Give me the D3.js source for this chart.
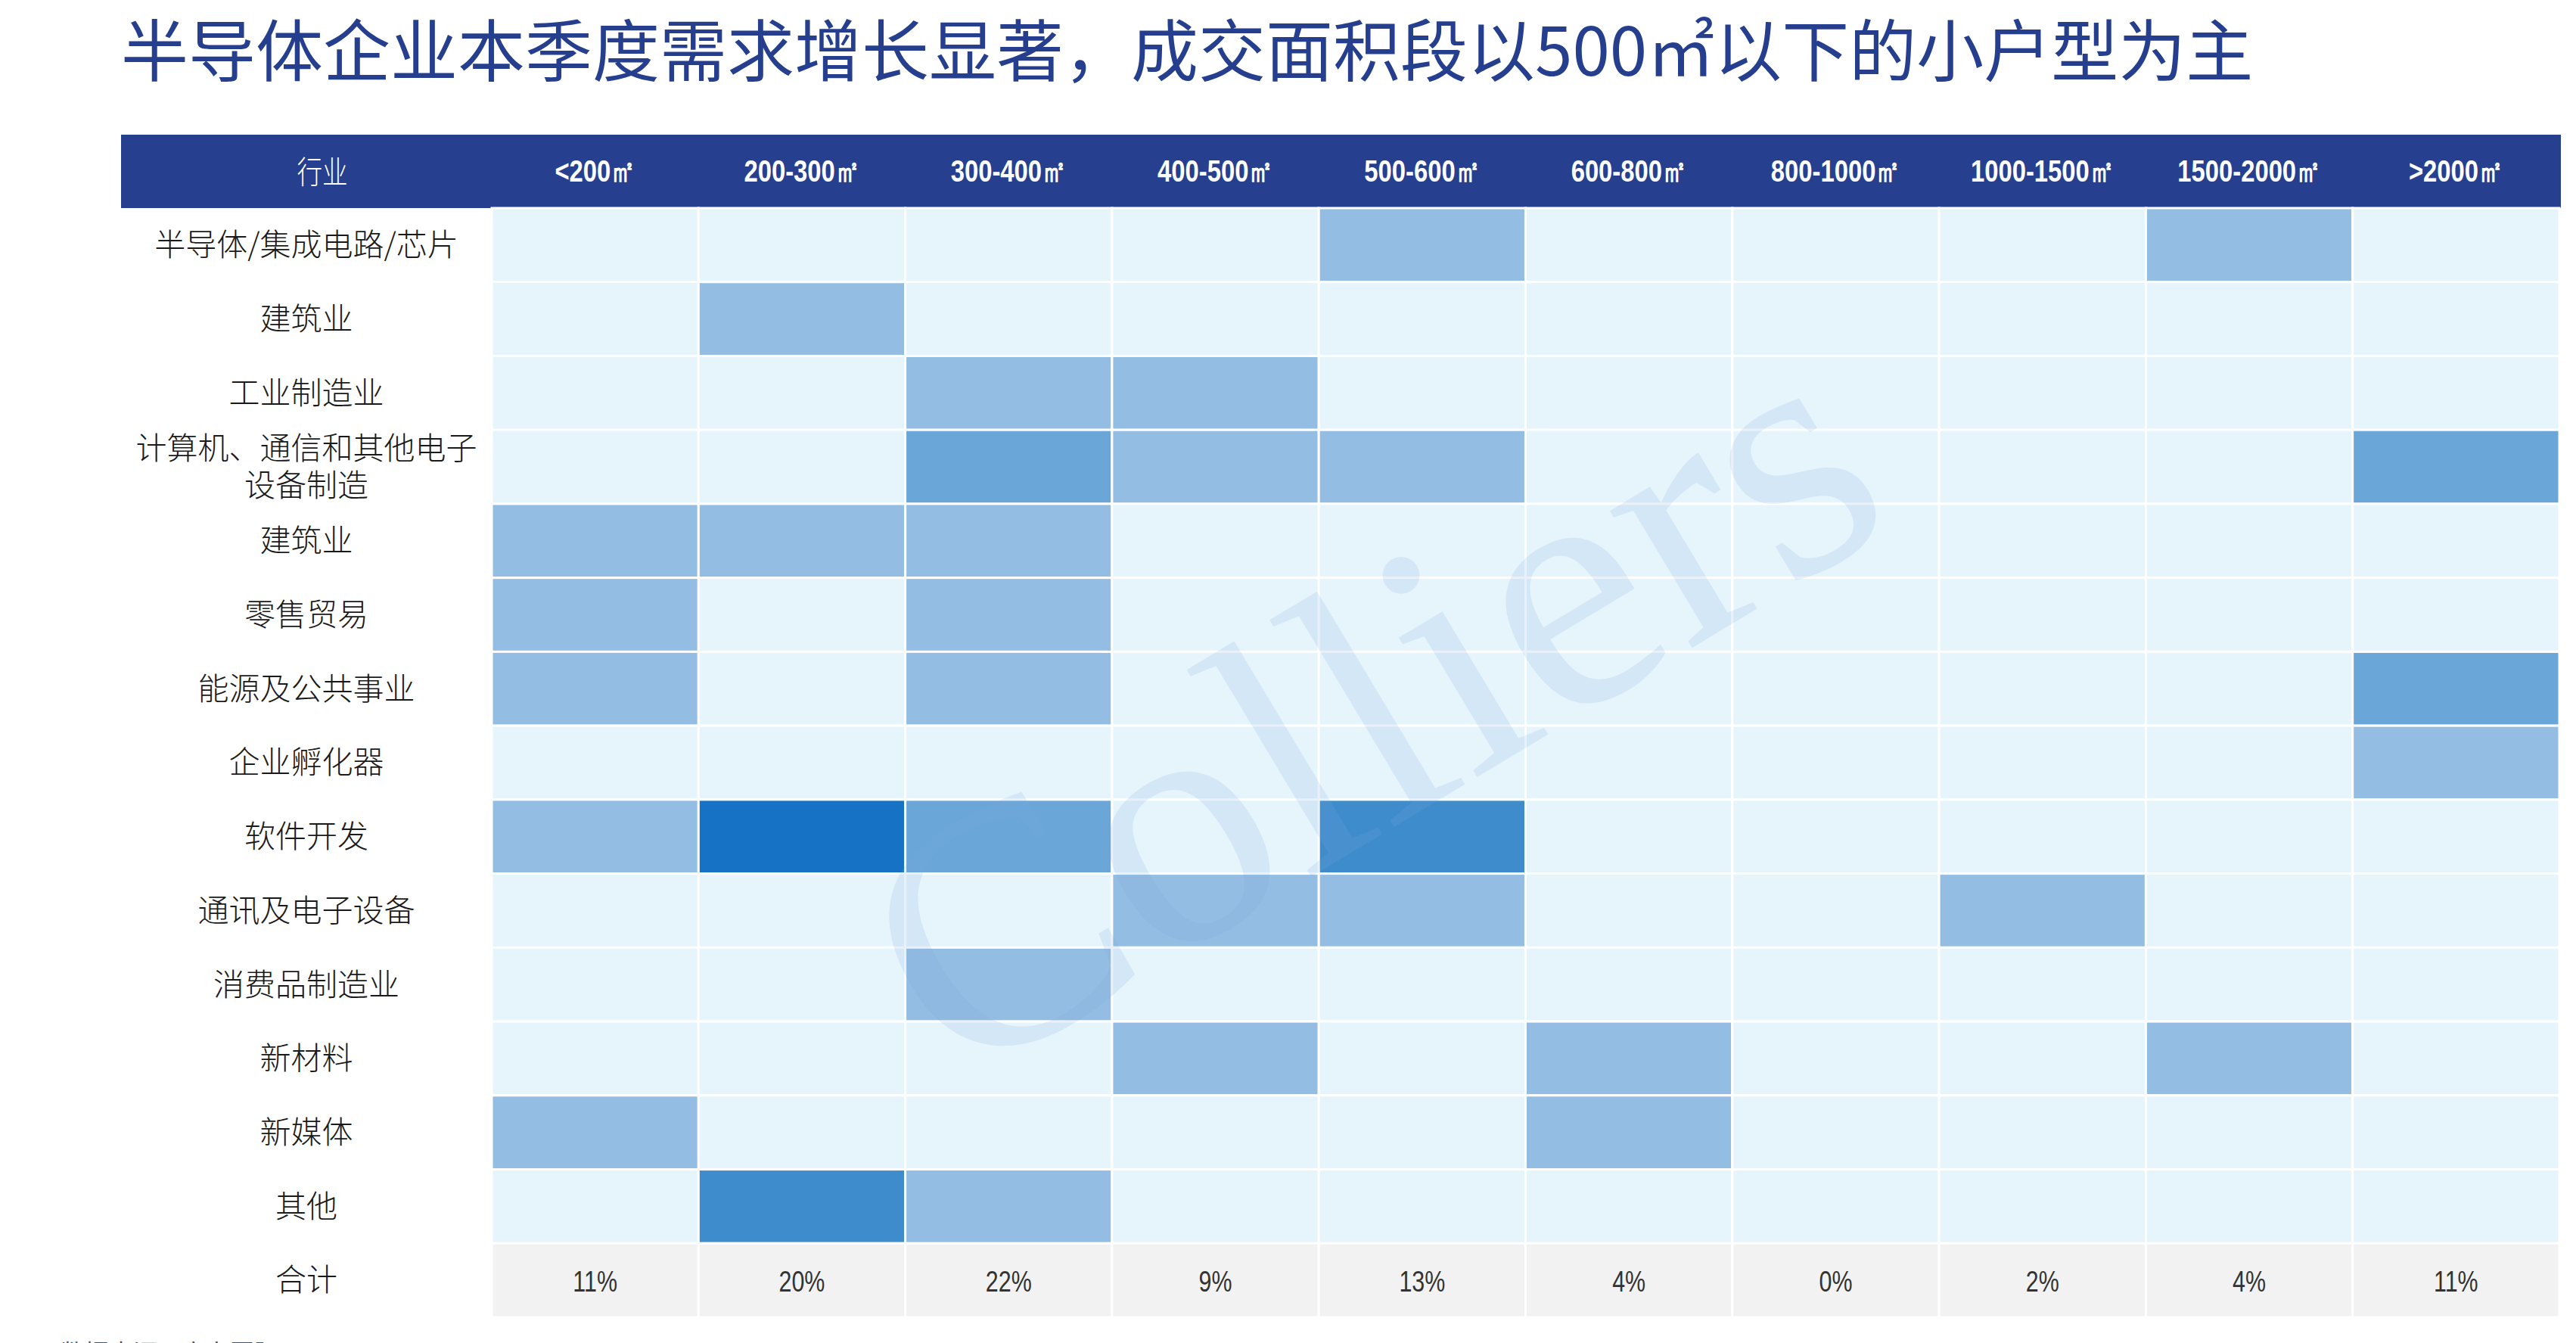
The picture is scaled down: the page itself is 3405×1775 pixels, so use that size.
<!DOCTYPE html>
<html>
<head>
<meta charset="utf-8">
<script src="https://cdn.jsdelivr.net/npm/d3@7"></script>
<style>
  body { margin: 0; background: #fff; }
  .rowLabel { font-family: "Noto Sans CJK SC", sans-serif; font-weight: 300; }
  .narrow { font-family: "Liberation Sans Narrow", "Arial Narrow", "Liberation Sans", sans-serif; }
</style>
</head>
<body>
<div id="heatmap"></div>
<script>
var svgWidth = 3405;
var svgHeight = 1775;

// Data
// ==============================
var titleText = "半导体企业本季度需求增长显著，成交面积段以500㎡以下的小户型为主";
var headerLabel = "行业";
var areaBands = ["<200㎡", "200-300㎡", "300-400㎡", "400-500㎡", "500-600㎡",
  "600-800㎡", "800-1000㎡", "1000-1500㎡", "1500-2000㎡", ">2000㎡"];
var industries = ["半导体/集成电路/芯片", "建筑业", "工业制造业", "计算机、通信和其他电子\n设备制造",
  "建筑业", "零售贸易", "能源及公共事业", "企业孵化器", "软件开发", "通讯及电子设备",
  "消费品制造业", "新材料", "新媒体", "其他"];
// number of deals per industry (rows) and area band (columns)
var deals = [
  [0, 0, 0, 0, 1, 0, 0, 0, 1, 0],
  [0, 1, 0, 0, 0, 0, 0, 0, 0, 0],
  [0, 0, 1, 1, 0, 0, 0, 0, 0, 0],
  [0, 0, 2, 1, 1, 0, 0, 0, 0, 2],
  [1, 1, 1, 0, 0, 0, 0, 0, 0, 0],
  [1, 0, 1, 0, 0, 0, 0, 0, 0, 0],
  [1, 0, 1, 0, 0, 0, 0, 0, 0, 2],
  [0, 0, 0, 0, 0, 0, 0, 0, 0, 1],
  [1, 4, 2, 0, 3, 0, 0, 0, 0, 0],
  [0, 0, 0, 1, 1, 0, 0, 1, 0, 0],
  [0, 0, 1, 0, 0, 0, 0, 0, 0, 0],
  [0, 0, 0, 1, 0, 1, 0, 0, 1, 0],
  [1, 0, 0, 0, 0, 1, 0, 0, 0, 0],
  [0, 3, 1, 0, 0, 0, 0, 0, 0, 0]
];
var totalLabel = "合计";
var totalShare = ["11%", "20%", "22%", "9%", "13%", "4%", "0%", "2%", "4%", "11%"];
var sourceText = "数据来源：高力国际";

var svg = d3.select("#heatmap")
  .append("svg")
  .attr("width", svgWidth)
  .attr("height", svgHeight)
  .style("display", "block");

svg.append("rect")
  .attr("width", svgWidth)
  .attr("height", svgHeight)
  .attr("fill", "#fff");

// Scales
// ==============================
var rowKeys = industries.map((d, i) => i).concat(["total"]);

var xScale = d3.scaleBand()
  .domain(areaBands)
  .range([650, 3383]);

var yScale = d3.scaleBand()
  .domain(rowKeys)
  .range([275, 1741]);

var colorScale = d3.scaleOrdinal()
  .domain([0, 1, 2, 3, 4])
  .range(["#e6f4fc", "#93bde3", "#6aa6d8", "#3f8ccd", "#1572c4"]);

// narrow (condensed) text look: squeeze horizontally around the anchor
var squeeze = 0.8;
function narrowAt(cx, cy) {
  return `translate(${cx}, ${cy}) scale(${squeeze}, 1)`;
}

// Title
// ==============================
svg.append("text")
  .attr("x", 160)
  .attr("y", 100)
  .attr("font-family", "'Noto Sans CJK SC', sans-serif")
  .attr("font-weight", 400)
  .attr("font-size", "89px")
  .attr("fill", "#253f8e")
  .text(titleText);

// Header band
// ==============================
svg.append("rect")
  .attr("x", 160)
  .attr("y", 178)
  .attr("width", 3385 - 160)
  .attr("height", 275 - 178)
  .attr("fill", "#263f8e");

svg.append("text")
  .attr("class", "rowLabel")
  .attr("transform", narrowAt(426, 228))
  .attr("dy", "0.35em")
  .attr("text-anchor", "middle")
  .attr("font-size", "42px")
  .attr("font-weight", 400)
  .attr("fill", "#fff")
  .text(headerLabel);

svg.append("g")
  .selectAll("text")
  .data(areaBands)
  .enter()
  .append("text")
  .attr("class", "narrow")
  .attr("transform", d => narrowAt(xScale(d) + xScale.bandwidth() / 2, 226))
  .attr("dy", "0.35em")
  .attr("text-anchor", "middle")
  .attr("font-size", "41px")
  .attr("font-weight", "bold")
  .attr("fill", "#fff")
  .text(d => d);

// Cells
// ==============================
var cells = [];
deals.forEach(function(row, i) {
  row.forEach(function(v, j) {
    cells.push({row: i, band: areaBands[j], value: v});
  });
});

svg.append("g")
  .selectAll("rect")
  .data(cells)
  .enter()
  .append("rect")
  .attr("x", d => xScale(d.band))
  .attr("y", d => yScale(d.row))
  .attr("width", xScale.bandwidth())
  .attr("height", yScale.bandwidth())
  .attr("fill", d => colorScale(d.value))
  .attr("stroke", "#fff")
  .attr("stroke-width", 3);

// Total row
svg.append("g")
  .selectAll("rect")
  .data(areaBands)
  .enter()
  .append("rect")
  .attr("x", d => xScale(d))
  .attr("y", yScale("total"))
  .attr("width", xScale.bandwidth())
  .attr("height", yScale.bandwidth())
  .attr("fill", "#f2f2f2")
  .attr("stroke", "#fff")
  .attr("stroke-width", 3);

svg.append("g")
  .selectAll("text")
  .data(totalShare)
  .enter()
  .append("text")
  .attr("class", "narrow")
  .attr("transform", (d, i) => narrowAt(xScale(areaBands[i]) + xScale.bandwidth() / 2,
    yScale("total") + yScale.bandwidth() / 2 + 2))
  .attr("dy", "0.35em")
  .attr("text-anchor", "middle")
  .attr("font-size", "38px")
  .attr("fill", "#333")
  .text(d => d);

// Row labels
// ==============================
var labelX = 405;
var labels = svg.append("g")
  .selectAll("text")
  .data(industries.concat([totalLabel]))
  .enter()
  .append("text")
  .attr("class", "rowLabel")
  .attr("x", labelX)
  .attr("y", (d, i) => yScale(rowKeys[i]) + yScale.bandwidth() / 2)
  .attr("text-anchor", "middle")
  .attr("font-size", "41px")
  .attr("fill", "#1a1a1a");

labels.each(function(d) {
  var lines = d.split("\n");
  var el = d3.select(this);
  lines.forEach(function(line, k) {
    el.append("tspan")
      .attr("x", labelX)
      .attr("dy", k === 0 ? (0.35 - (lines.length - 1) * 0.6) + "em" : "1.2em")
      .text(line);
  });
});

// Watermark
// ==============================
svg.append("text")
  .attr("transform", "translate(1265, 1440) rotate(-31)")
  .attr("font-family", "'Liberation Serif', 'Times New Roman', serif")
  .attr("font-size", "460px")
  .attr("fill", "#7fa6dc")
  .attr("fill-opacity", 0.17)
  .style("pointer-events", "none")
  .text("Colliers");

// Source note (cut by bottom edge)
svg.append("text")
  .attr("x", 80)
  .attr("y", 1800)
  .attr("font-family", "'Noto Sans CJK SC', sans-serif")
  .attr("font-size", "32px")
  .attr("fill", "#44546a")
  .text(sourceText);
</script>
</body>
</html>
